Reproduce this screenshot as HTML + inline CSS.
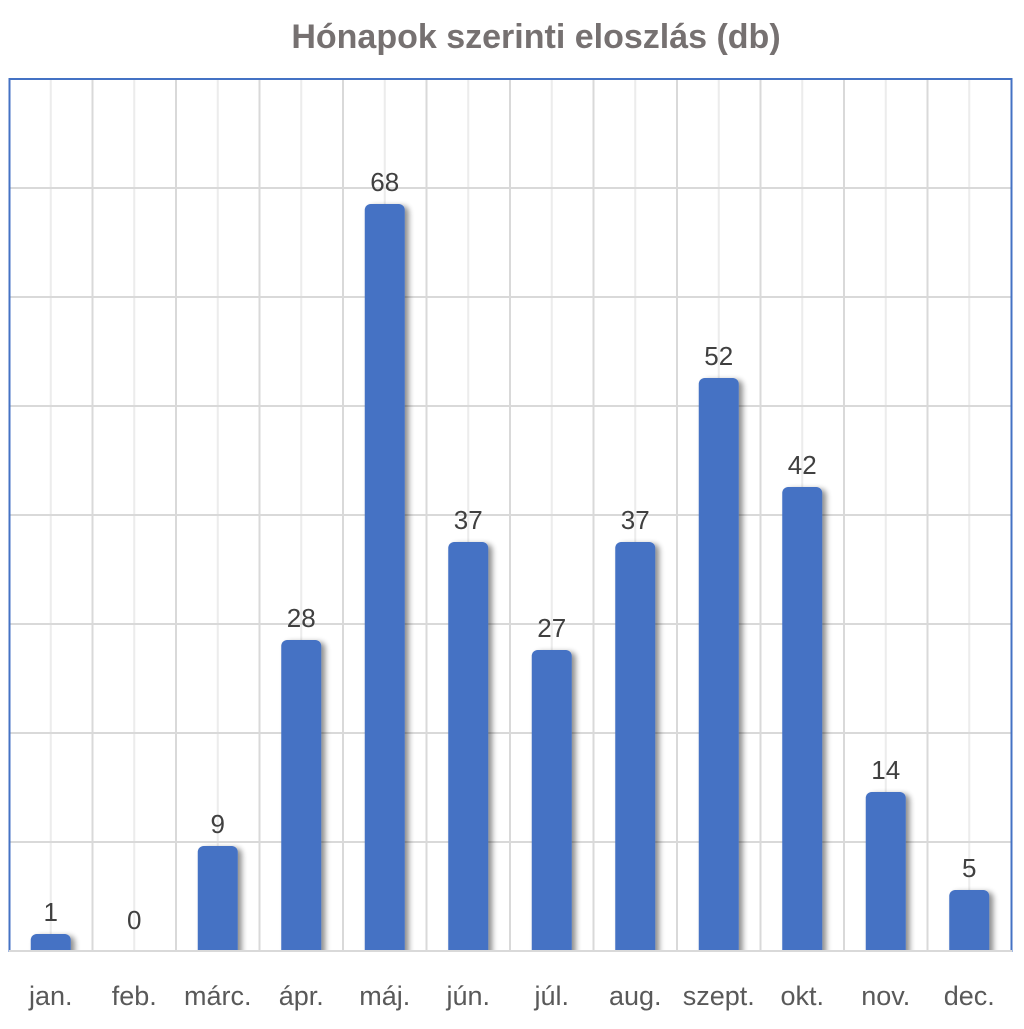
<!DOCTYPE html>
<html><head><meta charset="utf-8"><style>
html,body{margin:0;padding:0;background:#fff;}
</style></head><body>
<svg width="1024" height="1024" viewBox="0 0 1024 1024" xmlns="http://www.w3.org/2000/svg" font-family="Liberation Sans, sans-serif">
<defs>
<filter id="sh" x="-20%" y="-5%" width="150%" height="110%">
<feGaussianBlur in="SourceAlpha" stdDeviation="3"/>
<feOffset dx="4" dy="2"/>
<feComponentTransfer><feFuncA type="linear" slope="0.45"/></feComponentTransfer>
<feMerge><feMergeNode/><feMergeNode in="SourceGraphic"/></feMerge>
</filter>
</defs>
<rect width="1024" height="1024" fill="#fff"/>
<text x="536" y="48" text-anchor="middle" font-size="34" font-weight="bold" fill="#767171">Hónapok szerinti eloszlás (db)</text>
<g stroke="#ececec" stroke-width="2">
<line x1="50.75" x2="50.75" y1="80" y2="951"/><line x1="134.25" x2="134.25" y1="80" y2="951"/><line x1="217.75" x2="217.75" y1="80" y2="951"/><line x1="301.25" x2="301.25" y1="80" y2="951"/><line x1="384.75" x2="384.75" y1="80" y2="951"/><line x1="468.25" x2="468.25" y1="80" y2="951"/><line x1="551.75" x2="551.75" y1="80" y2="951"/><line x1="635.25" x2="635.25" y1="80" y2="951"/><line x1="718.75" x2="718.75" y1="80" y2="951"/><line x1="802.25" x2="802.25" y1="80" y2="951"/><line x1="885.75" x2="885.75" y1="80" y2="951"/><line x1="969.25" x2="969.25" y1="80" y2="951"/>
</g>
<g stroke="#d9d9d9" stroke-width="2">
<line x1="9" x2="1012" y1="842" y2="842"/><line x1="9" x2="1012" y1="733" y2="733"/><line x1="9" x2="1012" y1="624" y2="624"/><line x1="9" x2="1012" y1="515" y2="515"/><line x1="9" x2="1012" y1="406" y2="406"/><line x1="9" x2="1012" y1="297" y2="297"/><line x1="9" x2="1012" y1="188" y2="188"/>
<line x1="92.5" x2="92.5" y1="80" y2="951"/><line x1="176" x2="176" y1="80" y2="951"/><line x1="259.5" x2="259.5" y1="80" y2="951"/><line x1="343" x2="343" y1="80" y2="951"/><line x1="426.5" x2="426.5" y1="80" y2="951"/><line x1="510" x2="510" y1="80" y2="951"/><line x1="593.5" x2="593.5" y1="80" y2="951"/><line x1="677" x2="677" y1="80" y2="951"/><line x1="760.5" x2="760.5" y1="80" y2="951"/><line x1="844" x2="844" y1="80" y2="951"/><line x1="927.5" x2="927.5" y1="80" y2="951"/>
<line x1="9" x2="1012" y1="951" y2="951"/>
</g>
<rect x="9.5" y="79" width="1002" height="872" fill="none" stroke="#4472c4" stroke-width="2"/>
<g fill="#4472c4" filter="url(#sh)">
<rect x="30.75" y="934" width="40" height="24" rx="6"/>
<rect x="197.75" y="846" width="40" height="112" rx="6"/>
<rect x="281.25" y="640" width="40" height="318" rx="6"/>
<rect x="364.75" y="204" width="40" height="754" rx="6"/>
<rect x="448.25" y="542" width="40" height="416" rx="6"/>
<rect x="531.75" y="650" width="40" height="308" rx="6"/>
<rect x="615.25" y="542" width="40" height="416" rx="6"/>
<rect x="698.75" y="378" width="40" height="580" rx="6"/>
<rect x="782.25" y="487" width="40" height="471" rx="6"/>
<rect x="865.75" y="792" width="40" height="166" rx="6"/>
<rect x="949.25" y="890" width="40" height="68" rx="6"/>
</g>
<rect x="0" y="952" width="1024" height="72" fill="#fff"/>
<line x1="9" x2="1012" y1="951" y2="951" stroke="#d9d9d9" stroke-width="2"/>
<g font-size="26" fill="#404040" text-anchor="middle">
<text x="50.75" y="921">1</text><text x="134.25" y="929">0</text><text x="217.75" y="833">9</text><text x="301.25" y="627">28</text><text x="384.75" y="191">68</text><text x="468.25" y="529">37</text><text x="551.75" y="637">27</text><text x="635.25" y="529">37</text><text x="718.75" y="365">52</text><text x="802.25" y="474">42</text><text x="885.75" y="779">14</text><text x="969.25" y="877">5</text>
</g>
<g font-size="27" fill="#595959" text-anchor="middle">
<text x="50.75" y="1005">jan.</text><text x="134.25" y="1005">feb.</text><text x="217.75" y="1005">márc.</text><text x="301.25" y="1005">ápr.</text><text x="384.75" y="1005">máj.</text><text x="468.25" y="1005">jún.</text><text x="551.75" y="1005">júl.</text><text x="635.25" y="1005">aug.</text><text x="718.75" y="1005">szept.</text><text x="802.25" y="1005">okt.</text><text x="885.75" y="1005">nov.</text><text x="969.25" y="1005">dec.</text>
</g>
</svg>
</body></html>
